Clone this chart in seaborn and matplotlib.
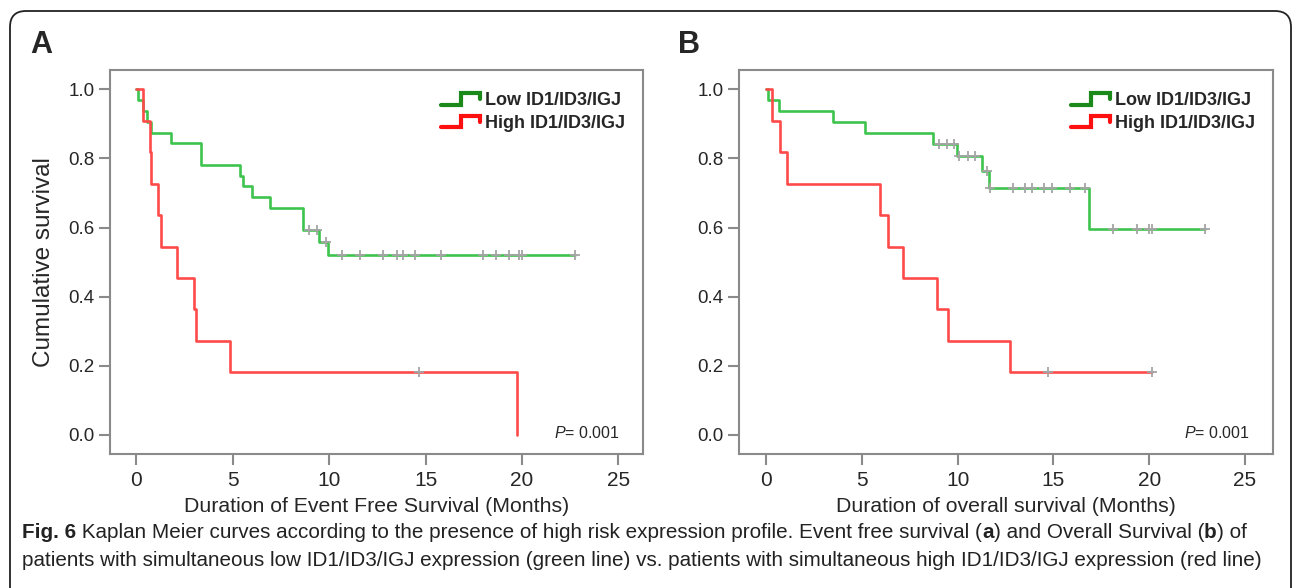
import pandas as pd
import matplotlib
matplotlib.use("Agg")
import matplotlib.pyplot as plt
import seaborn as sns
from matplotlib.legend_handler import HandlerBase
from matplotlib.lines import Line2D
from matplotlib.patches import FancyBboxPatch
from matplotlib.transforms import IdentityTransform

# --- panel A: event free survival (months) ---
a_low_times = [0.12, 0.38, 0.55, 0.76, 1.8, 3.37, 5.39, 5.53, 6.0, 6.94, 8.67, 9.5, 9.96]
a_low_surv = [0.969, 0.938, 0.906, 0.875, 0.844, 0.781, 0.750, 0.719, 0.688, 0.656, 0.594, 0.559, 0.522]
a_low_cens = [8.96, 9.36, 9.84, 10.66, 11.6, 12.81, 13.5, 13.82, 14.46, 15.79,
              17.99, 18.65, 19.31, 19.86, 20.0, 22.75]
a_high_times = [0.35, 0.73, 0.78, 1.12, 1.28, 2.11, 3.02, 3.09, 4.87, 19.73]
a_high_surv = [0.909, 0.818, 0.727, 0.636, 0.545, 0.455, 0.364, 0.273, 0.182, 0.0]
a_high_cens = [14.66]

# --- panel B: overall survival (months) ---
b_low_times = [0.12, 0.69, 3.51, 5.18, 8.7, 9.95, 11.29, 11.65, 16.87]
b_low_surv = [0.969, 0.938, 0.906, 0.875, 0.843, 0.808, 0.764, 0.716, 0.597]
b_low_cens = [9.04, 9.43, 9.83, 10.07, 10.56, 10.91, 11.55, 11.69, 12.9, 13.5, 13.87,
              14.52, 14.91, 15.87, 16.65, 18.1, 19.38, 19.99, 20.13, 22.91]
b_high_times = [0.33, 0.73, 1.08, 5.95, 6.35, 7.13, 8.91, 9.48, 12.73]
b_high_surv = [0.909, 0.818, 0.727, 0.636, 0.545, 0.455, 0.364, 0.273, 0.182]
b_high_cens = [14.73, 20.13]

groups = ["Low ID1/ID3/IGJ", "High ID1/ID3/IGJ"]
x_ticks = [0, 5, 10, 15, 20, 25]
y_ticks = [0.0, 0.2, 0.4, 0.6, 0.8, 1.0]

curve_colors = {"Low ID1/ID3/IGJ": "#3ec44e", "High ID1/ID3/IGJ": "#ff4a4a"}
legend_colors = ["#1b8a1b", "#ff1010"]
spine_col = "#8a8a8a"

sns.set_theme(style="white")
plt.rcParams['font.family'] = ['Liberation Sans', 'DejaVu Sans']
plt.rcParams['mathtext.fontset'] = 'custom'
plt.rcParams['mathtext.it'] = 'Liberation Sans:italic'
plt.rcParams['mathtext.rm'] = 'Liberation Sans'


def surv_at(times, surv, t):
    s = 1.0
    for ti, si in zip(times, surv):
        if ti <= t:
            s = si
    return s


def km_frame(times, surv, cens, group):
    x = [0.0] + list(times)
    y = [1.0] + list(surv)
    if cens and max(cens) > x[-1]:
        x.append(max(cens))
        y.append(y[-1])
    return pd.DataFrame({"time": x, "surv": y, "group": group})


def cens_frame(times, surv, cens, group):
    return pd.DataFrame({"time": cens,
                         "surv": [surv_at(times, surv, c) for c in cens],
                         "group": group})


class HandlerStep(HandlerBase):
    def create_artists(self, legend, orig_handle, xdescent, ydescent,
                       width, height, fontsize, trans):
        x0, y0 = -xdescent, -ydescent
        xs = [x0, x0 + 0.5 * width, x0 + 0.5 * width, x0 + width, x0 + width]
        ys = [y0, y0, y0 + height, y0 + height, y0 + 0.5 * height]
        ln = Line2D(xs, ys, color=orig_handle.get_color(),
                    lw=orig_handle.get_linewidth(), solid_joinstyle='miter')
        ln.set_transform(trans)
        return [ln]


fig = plt.figure(figsize=(12.92, 5.88), dpi=100)
ax_a = fig.add_axes([110 / 1292, 1 - 454 / 588, 533 / 1292, 384 / 588])
ax_b = fig.add_axes([739 / 1292, 1 - 454 / 588, 534 / 1292, 384 / 588])

panels = [
    (ax_a, (a_low_times, a_low_surv, a_low_cens), (a_high_times, a_high_surv, a_high_cens),
     "Duration of Event Free Survival (Months)", (-1.35, 26.27)),
    (ax_b, (b_low_times, b_low_surv, b_low_cens), (b_high_times, b_high_surv, b_high_cens),
     "Duration of overall survival (Months)", (-1.41, 26.46)),
]

for ax, low, high, xlab, xlim in panels:
    curves = pd.concat([km_frame(*low, groups[0]), km_frame(*high, groups[1])])
    marks = pd.concat([cens_frame(*low, groups[0]), cens_frame(*high, groups[1])])
    for g in groups:
        sns.lineplot(data=curves[curves.group == g], x="time", y="surv",
                     color=curve_colors[g], estimator=None, sort=False,
                     drawstyle="steps-post", linewidth=1.9, ax=ax, legend=False,
                     zorder=2)
    ax.scatter(marks["time"], marks["surv"], marker="+", color="#a5a5a5",
               s=55, linewidths=1.3, zorder=3)

    ax.set_xlim(*xlim)
    ax.set_ylim(-0.055, 1.056)
    ax.set_xticks(x_ticks)
    ax.set_yticks(y_ticks)
    ax.set_yticklabels([f"{v:.1f}" for v in y_ticks])
    ax.tick_params(axis="x", labelsize=15, length=8, width=1.5, color=spine_col,
                   direction="out", pad=4, bottom=True)
    ax.tick_params(axis="y", labelsize=13.5, length=8, width=1.5, color=spine_col,
                   direction="out", pad=3, left=True)
    for sp in ax.spines.values():
        sp.set_color(spine_col)
        sp.set_linewidth(1.5)
    ax.set_xlabel(xlab, fontsize=15.3, labelpad=5)
    ax.set_ylabel("")
    ax.text(0.957, 0.055, r"$\it{P}$= 0.001", transform=ax.transAxes,
            ha="right", va="center", fontsize=11.5)

    handles = [Line2D([], [], color=c, lw=3) for c in legend_colors]
    leg = ax.legend(handles, groups, handler_map={Line2D: HandlerStep()},
                    loc="upper right", bbox_to_anchor=(0.99, 0.975), frameon=False,
                    prop={"size": 13, "weight": "bold"}, handlelength=2.2,
                    handleheight=0.6, handletextpad=0.25, labelspacing=0.32,
                    borderaxespad=0.3)

ax_a.set_ylabel("Cumulative survival", fontsize=17.5, labelpad=10)

fig.text(30 / 1292, 1 - 45 / 588, "A", fontsize=22, fontweight="bold", va="center")
fig.text(678 / 1292, 1 - 45 / 588, "B", fontsize=22, fontweight="bold", va="center")

# outer rounded frame
frame = FancyBboxPatch((10, -30), 1281, 588 - 11 + 30,
                       boxstyle="round,pad=0,rounding_size=16",
                       transform=IdentityTransform(), fill=False,
                       edgecolor="#222222", linewidth=1.3)
fig.patches.append(frame)

# caption
cap_font = ['Liberation Sans Narrow', 'Liberation Sans']
caption_lines = [
    [("Fig. 6", "bold"),
     (" Kaplan Meier curves according to the presence of high risk expression profile. "
      "Event free survival (", "normal"),
     ("a", "bold"), (") and Overall Survival (", "normal"), ("b", "bold"), (") of", "normal")],
    [("patients with simultaneous low ID1/ID3/IGJ expression (green line) vs. patients "
      "with simultaneous high ID1/ID3/IGJ expression (red line)", "normal")],
]
caption_y = [588 - 533, 588 - 561]
renderer = fig.canvas.get_renderer()
for segs, yy in zip(caption_lines, caption_y):
    xx = 22
    for txt, wt in segs:
        t = fig.text(xx, yy, txt, transform=IdentityTransform(), fontsize=14.9,
                     fontweight=wt, family=cap_font, color="#222222", va="center")
        xx = t.get_window_extent(renderer).x1

fig.savefig("out.png", dpi=100)
